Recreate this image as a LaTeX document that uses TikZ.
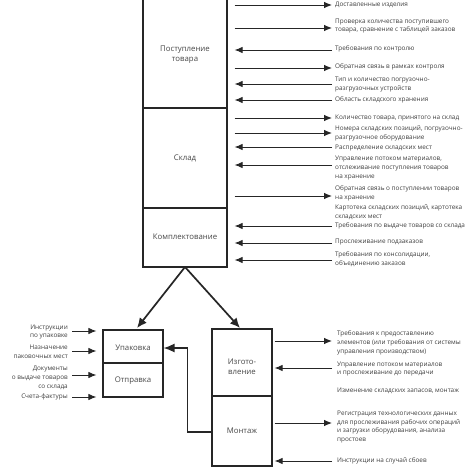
\documentclass[tikz,border=0pt]{standalone}
\usepackage{fontspec}
\setmainfont{Open Sans}
\usetikzlibrary{arrows.meta}
\begin{document}
\begin{tikzpicture}[x=1pt,y=-1pt,
  box/.style={draw=black!85,line width=1.2pt,inner sep=0pt},
  boxtext/.style={font=\fontsize{7.8}{9.8}\selectfont,text=black!72,align=center,inner sep=0pt},
  lab/.style={font=\fontsize{6.4}{8.8}\selectfont,text=black!75,align=left,anchor=west,inner sep=0pt},
  llab/.style={font=\fontsize{6.4}{8.8}\selectfont,text=black!75,align=right,anchor=east,inner sep=0pt},
  arr/.style={draw=black!85,line width=0.9pt,-{Latex[length=8pt,width=6.5pt]}},
  rarr/.style={arr,shorten <=7pt,shorten >=3pt},
  larr/.style={arr,shorten <=3pt,shorten >=7pt},
  big/.style={draw=black!85,line width=1.7pt,-{Latex[length=10pt,width=9pt]}}
]
\useasboundingbox (0,0) rectangle (474,468);
\fill[white] (0,0) rectangle (474,468);

% boxes
\node[box,minimum width=84pt,minimum height=109pt] (post) at (185,53.5) {};
\node[box,minimum width=84pt,minimum height=100pt] (sklad) at (185,158) {};
\node[box,minimum width=84pt,minimum height=59pt] (kompl) at (185,237.5) {};
\node[box,minimum width=60pt,minimum height=33pt] (upak) at (133,346.5) {};
\node[box,minimum width=60pt,minimum height=34pt] (otpr) at (133,380) {};
\node[box,minimum width=60pt,minimum height=67pt] (izg) at (242,362.5) {};
\node[box,minimum width=60pt,minimum height=70pt] (mont) at (242,431) {};

\node[boxtext] (tpost) at (185,55) {Поступление\\товара};
\node[boxtext] (tsklad) at (185,158) {Склад};
\node[boxtext] (tkompl) at (185,237) {Комплектование};
\node[boxtext] (tupak) at (133,348) {Упаковка};
\node[boxtext] (totpr) at (133,381) {Отправка};
\node[boxtext] (tizg) at (242,367) {Изгото-\\вление};
\node[boxtext] (tmont) at (242,431) {Монтаж};

% big arrows
\coordinate (ksplit) at (185,267);
\draw[big] (ksplit) -- (137,328);
\draw[big] (ksplit) -- (240,328);

% Монтаж -> Упаковка
\coordinate (mbend) at (187.5,432);
\draw[draw=black!85,line width=1.3pt,-{Latex[length=11pt,width=9pt]}] (mont.west |- mbend) -- (mbend) -- (mbend |- 0,348) -- (upak.east |- 0,348);

% right labels, top column
\node[lab] (l1) at (335,5) {Доставленные изделия};
\node[lab] (l2) at (335,26) {Проверка количества поступившего\\товара, сравнение с таблицей заказов};
\node[lab] (l3) at (335,49) {Требования по контролю};
\node[lab] (l4) at (335,67) {Обратная связь в рамках контроля};
\node[lab] (l5) at (335,84.5) {Тип и количество погрузочно-\\разгрузочных устройств};
\node[lab] (l6) at (335,100) {Область складского хранения};
\node[lab] (l7) at (335,118) {Количество товара, принятого на склад};
\node[lab] (l8) at (335,133.5) {Номера складских позиций, погрузочно-\\разгрузочное оборудование};
\node[lab] (l9) at (335,148) {Распределение складских мест};
\node[lab] (l10) at (335,168) {Управление потоком материалов,\\отслеживание поступления товаров\\на хранение};
\node[lab] (l11) at (335,193.5) {Обратная связь о поступлении товаров\\на хранение};
\node[lab] (l12) at (335,212.5) {Картотека складских позиций, картотека\\складских мест};
\node[lab] (l13) at (335,226) {Требования по выдаче товаров со склада};
\node[lab] (l14) at (335,242) {Прослеживание подзаказов};
\node[lab] (l15) at (335,259) {Требования по консолидации,\\объединению заказов};

\draw[rarr] (post.east |- 0,5) -- (l1.west |- 0,5);
\draw[rarr] (post.east |- 0,28) -- (l2.west |- 0,28);
\draw[larr] (l3.west |- 0,50) -- (post.east |- 0,50);
\draw[rarr] (post.east |- 0,68) -- (l4.west |- 0,68);
\draw[larr] (l5.west |- 0,84) -- (post.east |- 0,84);
\draw[larr] (l6.west |- 0,100) -- (post.east |- 0,100);
\draw[rarr] (sklad.east |- 0,118) -- (l7.west |- 0,118);
\draw[rarr] (sklad.east |- 0,133) -- (l8.west |- 0,133);
\draw[larr] (l9.west |- 0,147) -- (sklad.east |- 0,147);
\draw[larr] (l10.west |- 0,165) -- (sklad.east |- 0,165);
\draw[rarr] (sklad.east |- 0,196) -- (l11.west |- 0,196);
\draw[larr] (l13.west |- 0,226) -- (kompl.east |- 0,226);
\draw[larr] (l14.west |- 0,243) -- (kompl.east |- 0,243);
\draw[larr] (l15.west |- 0,260) -- (kompl.east |- 0,260);

% right labels, bottom
\node[lab] (b1) at (337,343) {Требования к предоставлению\\элементов (или требования от системы\\управления производством)};
\node[lab] (b2) at (337,369) {Управление потоком материалов\\и прослеживание до передачи};
\node[lab] (b3) at (337,391) {Изменение складских запасов, монтаж};
\node[lab] (b4) at (337,427) {Регистрация технологических данных\\для прослеживания рабочих операций\\и загрузки оборудования, анализа\\простоев};
\node[lab] (b5) at (337,461) {Инструкции на случай сбоев};

\draw[arr,shorten <=2pt,shorten >=5pt] (izg.east |- 0,341) -- (b1.west |- 0,341);
\draw[arr,shorten <=5pt,shorten >=2pt] (b2.west |- 0,368) -- (izg.east |- 0,368);
\draw[arr,shorten <=2pt,shorten >=5pt] (mont.east |- 0,423) -- (b4.west |- 0,423);
\draw[arr,shorten <=5pt,shorten >=2pt] (b5.west |- 0,461) -- (mont.east |- 0,461);

% left labels
\node[llab] (m1) at (68,332) {Инструкции\\по упаковке};
\node[llab] (m2) at (68,352) {Назначение\\паковочных мест};
\node[llab] (m3) at (68,378) {Документы\\о выдаче товаров\\со склада};
\node[llab] (m4) at (68,397) {Счета-фактуры};

\draw[arr,shorten <=4pt,shorten >=6pt] (m1.east |- 0,331) -- (upak.west |- 0,331);
\draw[arr,shorten <=4pt,shorten >=6pt] (m2.east |- 0,351) -- (upak.west |- 0,351);
\draw[arr,shorten <=4pt,shorten >=6pt] (m3.east |- 0,375) -- (otpr.west |- 0,375);
\draw[arr,shorten <=4pt,shorten >=6pt] (m4.east |- 0,397) -- (otpr.west |- 0,397);
\end{tikzpicture}
\end{document}
